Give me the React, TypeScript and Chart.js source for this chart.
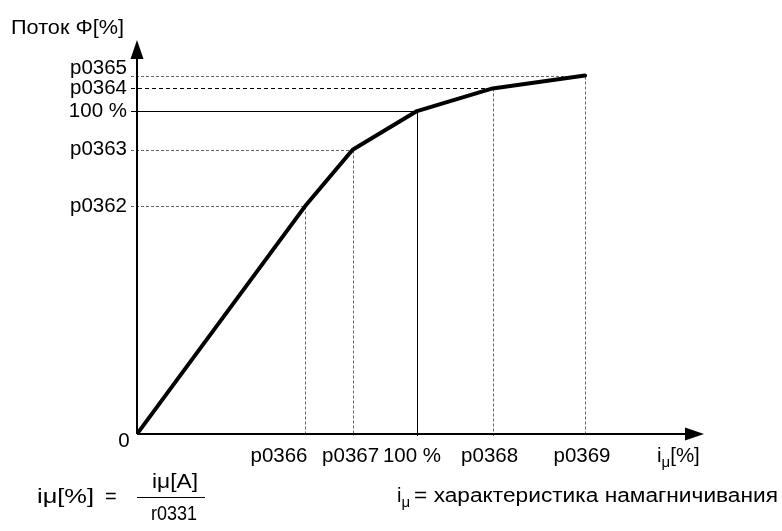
import React, { useEffect, useRef } from "react";
import { Chart, registerables } from "chart.js";

Chart.register(...registerables);

// ---- data (percent units) ----
const currentPct = [0, 60, 77, 100, 127, 160];
const fluxPct = [0, 70.5, 88, 100, 107, 111];
const xTickLabels = ["", "p0366", "p0367", "100 %", "p0368", "p0369"];
const yTickLabels = ["0", "p0362", "p0363", "100 %", "p0364", "p0365"];
const xAxisMax = 202.5;
const yAxisMax = 122;
const yAxisTitle = "Поток Φ[%]";
const xAxisTitleMain = "i";
const xAxisTitleSub = "μ";
const xAxisTitleUnit = "[%]";
const formulaLeft = "iμ[%]";
const formulaEq = "=";
const formulaNumerator = "iμ[A]";
const formulaDenominator = "r0331";
const noteMain = "i";
const noteSub = "μ";
const noteText = "= характеристика намагничивания";

const FONT = '"Liberation Sans", Arial, sans-serif';

// styles for guide lines (per point index)
const hGuideColor = ["#000", "#666", "#666", "#000", "#000", "#666"];
const hGuideDash = [[], [3, 2], [3, 2], [], [4, 3], [3, 2]];
const vGuideColor = ["#000", "#666", "#666", "#000", "#666", "#666"];
const vGuideDash = [[], [3, 2], [3, 2], [], [3, 2], [3, 2]];
const xLabelShift = [0, -26, -2, -5, -3, -3];
const yLabelShift = [0, 0, 0, 0, 0, -7];

function fitText(ctx: CanvasRenderingContext2D, text: string, x: number, y: number, size: number, width: number, align: "left" | "center") {
  ctx.save();
  ctx.font = `${size}px ${FONT}`;
  ctx.textAlign = "left";
  ctx.textBaseline = "middle";
  const w = ctx.measureText(text).width;
  const sx = width / w;
  const left = align === "center" ? x - width / 2 : x;
  ctx.translate(left, y);
  ctx.scale(sx, 1);
  ctx.fillText(text, 0, 0);
  ctx.restore();
}

const diagramPlugin = {
  id: "diagram",
  beforeDatasetsDraw(chart: any) {
    const { ctx, scales } = chart;
    const x = scales.x;
    const y = scales.y;
    const x0 = x.getPixelForValue(0);
    const y0 = y.getPixelForValue(0);
    ctx.save();
    ctx.lineWidth = 1;
    for (let i = 1; i < currentPct.length; i++) {
      const px = Math.round(x.getPixelForValue(currentPct[i])) + 0.5;
      const py = Math.round(y.getPixelForValue(fluxPct[i])) + 0.5;
      ctx.strokeStyle = hGuideColor[i];
      ctx.setLineDash(hGuideDash[i]);
      ctx.beginPath();
      ctx.moveTo(x0 - 6, py);
      ctx.lineTo(px, py);
      ctx.stroke();
      ctx.strokeStyle = vGuideColor[i];
      ctx.setLineDash(vGuideDash[i]);
      ctx.beginPath();
      ctx.moveTo(px, py);
      ctx.lineTo(px, y0 + 2);
      ctx.stroke();
    }
    ctx.restore();
  },
  afterDraw(chart: any) {
    const { ctx, scales, chartArea } = chart;
    const x = scales.x;
    const y = scales.y;
    const x0 = x.getPixelForValue(0);
    const y0 = y.getPixelForValue(0);
    const top = chartArea.top;
    const right = chartArea.right;
    ctx.save();
    // axes
    ctx.strokeStyle = "#000";
    ctx.fillStyle = "#000";
    ctx.lineWidth = 2;
    ctx.setLineDash([]);
    ctx.beginPath();
    ctx.moveTo(x0, y0);
    ctx.lineTo(x0, top + 16);
    ctx.moveTo(x0, y0);
    ctx.lineTo(right - 16, y0);
    ctx.stroke();
    ctx.beginPath();
    ctx.moveTo(x0, top);
    ctx.lineTo(x0 - 6.5, top + 19);
    ctx.lineTo(x0 + 6.5, top + 19);
    ctx.closePath();
    ctx.fill();
    ctx.beginPath();
    ctx.moveTo(right, y0);
    ctx.lineTo(right - 19, y0 - 6.5);
    ctx.lineTo(right - 19, y0 + 6.5);
    ctx.closePath();
    ctx.fill();

    // tick labels
    ctx.font = `20.5px ${FONT}`;
    ctx.textBaseline = "middle";
    ctx.textAlign = "center";
    for (let i = 1; i < currentPct.length; i++) {
      ctx.fillText(xTickLabels[i], x.getPixelForValue(currentPct[i]) + xLabelShift[i], y0 + 22);
    }
    ctx.textAlign = "right";
    for (let i = 1; i < fluxPct.length; i++) {
      ctx.fillText(yTickLabels[i], x0 - 10, y.getPixelForValue(fluxPct[i]) + yLabelShift[i]);
    }
    ctx.textAlign = "center";
    ctx.fillText(yTickLabels[0], x0 - 13, y0 + 7);

    // axis titles
    fitText(ctx, yAxisTitle, x0 - 126, top - 12, 20.5, 113, "left");
    ctx.font = `20.5px ${FONT}`;
    ctx.textAlign = "left";
    let ax = right - 47;
    ctx.fillText(xAxisTitleMain, ax, y0 + 22);
    ax += ctx.measureText(xAxisTitleMain).width;
    ctx.font = `15px ${FONT}`;
    ctx.fillText(xAxisTitleSub, ax, y0 + 29);
    ax += ctx.measureText(xAxisTitleSub).width;
    ctx.font = `20.5px ${FONT}`;
    ctx.fillText(xAxisTitleUnit, ax, y0 + 22);

    // formula
    fitText(ctx, formulaLeft, 37, 497, 20, 57, "left");
    ctx.font = `20px ${FONT}`;
    ctx.textAlign = "left";
    ctx.fillText(formulaEq, 105, 497);
    fitText(ctx, formulaNumerator, 175, 482, 20, 46, "center");
    fitText(ctx, formulaDenominator, 174, 514, 20, 46, "center");
    ctx.lineWidth = 1;
    ctx.beginPath();
    ctx.moveTo(137, 497.5);
    ctx.lineTo(205, 497.5);
    ctx.stroke();

    // note
    ctx.textAlign = "left";
    ctx.textBaseline = "middle";
    let nx = 397;
    ctx.font = `20px ${FONT}`;
    ctx.fillText(noteMain, nx, 496);
    nx += ctx.measureText(noteMain).width;
    ctx.font = `15px ${FONT}`;
    ctx.fillText(noteSub, nx, 503);
    nx += ctx.measureText(noteSub).width + 4;
    fitText(ctx, noteText, nx, 496, 20, 778 - nx, "left");
    ctx.restore();
  },
};

export default function App() {
  const ref = useRef<HTMLCanvasElement | null>(null);
  useEffect(() => {
    if (!ref.current) return;
    const chart = new Chart(ref.current, {
      type: "line",
      data: {
        datasets: [
          {
            data: currentPct.map((v, i) => ({ x: v, y: fluxPct[i] })),
            borderColor: "#000",
            borderWidth: 4,
            pointRadius: 0,
            tension: 0,
            borderJoinStyle: "round",
            borderCapStyle: "round",
            fill: false,
          },
        ],
      },
      options: {
        responsive: false,
        animation: false,
        devicePixelRatio: 1,
        layout: { padding: { left: 137, right: 78, top: 40, bottom: 97 } },
        plugins: { legend: { display: false }, tooltip: { enabled: false } },
        scales: {
          x: { type: "linear", min: 0, max: xAxisMax, display: false },
          y: { type: "linear", min: 0, max: yAxisMax, display: false },
        },
      },
      plugins: [diagramPlugin],
    });
    return () => chart.destroy();
  }, []);
  return (
    <div style={{ position: "fixed", left: 0, top: 0, width: 782, height: 531, background: "#fff" }}>
      <canvas ref={ref} width={782} height={531} />
    </div>
  );
}
